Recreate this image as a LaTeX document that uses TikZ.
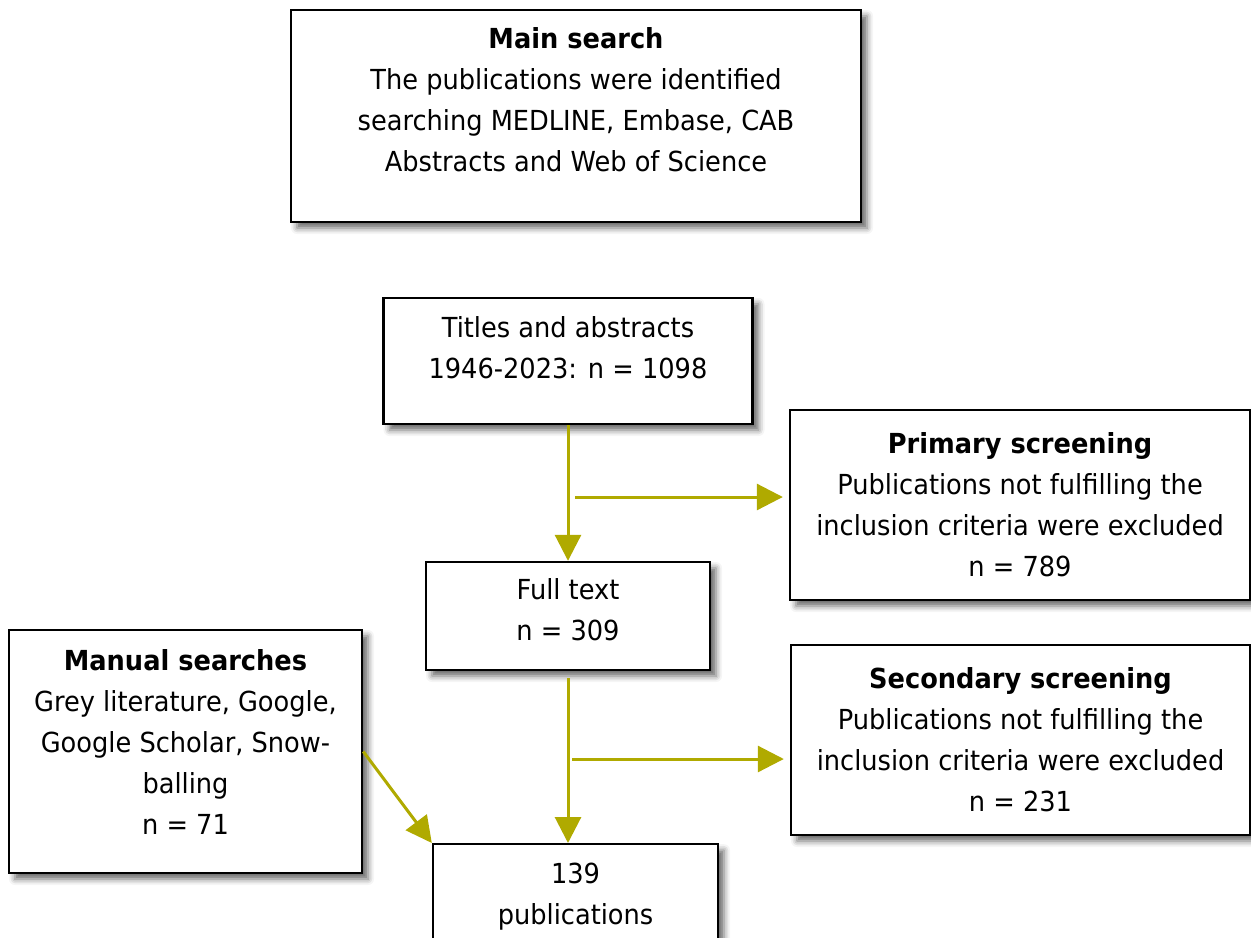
\documentclass[tikz,border=0pt]{standalone}
\usepackage{fontspec}
\setmainfont{DejaVu Sans}[FakeStretch=0.93]
\usetikzlibrary{arrows.meta,shadows.blur}
\definecolor{flowarrow}{RGB}{176,170,0}
\begin{document}
\begin{tikzpicture}[x=0.5pt,y=-0.5pt,
	box/.style={draw=black,line width=1.2pt,fill=white,align=center,inner sep=0pt,
		font=\fontsize{13.8}{20.5}\selectfont,
		blur shadow={shadow xshift=3pt,shadow yshift=-3pt,shadow blur radius=3pt,shadow opacity=60}},
	flow/.style={draw=flowarrow,line width=1.5pt,-{Triangle[length=13pt,width=13pt]}}]
	\useasboundingbox (0,0) rectangle (1251,937);\clip (0,0) rectangle (1251,937);
	\node[box,minimum width=285pt,minimum height=106pt,text depth=16pt] (main) at (576,116) {\textbf{Main search}\\The publications were identified\\searching MEDLINE, Embase, CAB\\Abstracts and Web of Science};
	\node[box,minimum width=184.5pt,minimum height=63pt,text depth=13pt] (titles) at (568,361) {Titles and abstracts\\1946-2023: n = 1098};
	\node[box,minimum width=142pt,minimum height=54pt,text depth=6pt] (full) at (568,616) {Full text\\n = 309};
	\node[box,minimum width=230pt,minimum height=95pt] (primary) at (1020,505) {\textbf{Primary screening}\\Publications not fulfilling the\\inclusion criteria were excluded\\n = 789};
	\node[box,minimum width=229.5pt,minimum height=95pt] (secondary) at (1020.5,740) {\textbf{Secondary screening}\\Publications not fulfilling the\\inclusion criteria were excluded\\n = 231};
	\node[box,minimum width=176.5pt,minimum height=121.5pt,text depth=9.5pt] (manual) at (185.5,751.5) {\textbf{Manual searches}\\Grey literature, Google,\\Google Scholar, Snow-\\balling\\n = 71};
	\node[box,minimum width=142.5pt,minimum height=52pt,anchor=north] (pub) at (575.5,843) {139\\publications};
	\coordinate (prim-in) at (575,497);\coordinate (sec-in) at (572,759);
	\draw[flow] (titles.south) -- (full.north);
	\draw[flow,shorten >=3pt] (prim-in) -- (prim-in -| primary.west);
	\draw[flow,shorten <=3.5pt] (full.south) -- (full.south |- pub.north);
	\draw[flow,shorten >=3pt] (sec-in) -- (sec-in -| secondary.west);
	\draw[flow] (manual.east) -- (pub.north west);
\end{tikzpicture}
\end{document}
